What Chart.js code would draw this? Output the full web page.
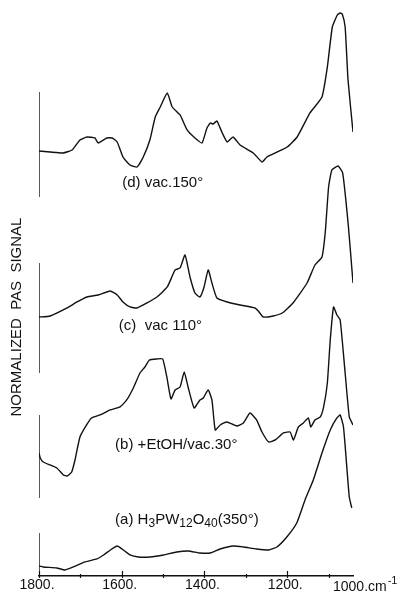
<!DOCTYPE html>
<html>
<head>
<meta charset="utf-8">
<title>PAS spectra</title>
<script src="https://cdn.jsdelivr.net/npm/chart.js@4.4.1/dist/chart.umd.min.js"></script>
<style>
    html, body { margin: 0; padding: 0; background: #fff; }
    #wrap { width: 407px; height: 594px; }
</style>
</head>
<body>
<div id="wrap"><canvas id="pas-chart" width="407" height="594"></canvas></div>
<script>
// wavenumbers (cm-1) and signal, arbitrary units
const dWavenumber = [1800, 1773, 1742, 1720, 1701, 1684, 1665, 1657, 1636, 1623, 1611, 1597, 1580, 1563, 1548, 1532, 1519, 1507, 1490, 1478, 1459, 1442, 1423, 1406, 1394, 1386, 1379, 1370, 1357, 1345, 1331, 1314, 1282, 1261, 1249, 1224, 1200, 1176, 1145, 1116, 1103, 1091, 1079, 1072, 1067, 1060, 1053, 1041];
const dSignal     = [425, 424, 423, 426, 436, 439, 438, 433, 438, 438, 434, 419, 411, 409, 419, 436, 459, 469, 483, 469, 461, 446, 438, 433, 448, 453, 452, 455, 443, 434, 439, 431, 423, 414, 419, 424, 429, 439, 463, 479, 509, 549, 561, 563, 562, 549, 496, 444];

const cWavenumber = [1800, 1773, 1732, 1708, 1684, 1657, 1628, 1611, 1597, 1580, 1563, 1539, 1515, 1490, 1471, 1459, 1447, 1435, 1423, 1411, 1401, 1391, 1382, 1370, 1345, 1314, 1278, 1270, 1258, 1234, 1212, 1186, 1152, 1133, 1116, 1108, 1100, 1092, 1077, 1066, 1052, 1041];
const cSignal     = [259, 260, 268, 274, 279, 281, 285, 281, 274, 269, 268, 273, 279, 289, 306, 308, 321, 299, 283, 279, 289, 306, 293, 278, 274, 271, 268, 265, 259, 260, 263, 273, 293, 311, 319, 344, 389, 406, 410, 403, 349, 293];

const bWavenumber = [1800, 1797, 1790, 1773, 1757, 1741, 1732, 1721, 1713, 1701, 1685, 1673, 1652, 1628, 1604, 1588, 1572, 1556, 1544, 1533, 1515, 1501, 1491, 1481, 1471, 1459, 1449, 1439, 1425, 1411, 1403, 1391, 1382, 1374, 1362, 1346, 1322, 1306, 1290, 1274, 1261, 1245, 1229, 1209, 1193, 1185, 1173, 1161, 1149, 1143, 1133, 1120, 1112, 1103, 1096, 1088, 1080, 1072, 1060, 1050, 1041];
const bSignal     = [123, 118, 114, 111, 108, 101, 100, 104, 116, 139, 151, 158, 161, 166, 169, 176, 188, 203, 209, 216, 217, 217, 199, 177, 186, 189, 204, 188, 168, 176, 178, 186, 176, 146, 151, 154, 150, 153, 163, 156, 144, 134, 136, 143, 144, 136, 149, 153, 158, 149, 156, 159, 169, 193, 236, 269, 261, 256, 203, 159, 151];

const aWavenumber = [1800, 1790, 1757, 1737, 1717, 1689, 1660, 1644, 1624, 1611, 1596, 1580, 1560, 1532, 1499, 1467, 1439, 1411, 1386, 1362, 1330, 1306, 1274, 1245, 1225, 1201, 1177, 1157, 1137, 1116, 1096, 1080, 1072, 1064, 1056, 1050, 1044];
const aSignal     = [10, 9, 8, 6, 9, 14, 17, 21, 27, 30, 26, 21, 19, 19, 21, 24, 25, 23, 23, 27, 30, 29, 27, 26, 29, 39, 53, 76, 96, 123, 146, 158, 161, 149, 109, 79, 68];

// vertical scale bars at 1800 cm-1 (low, high)
const dBar = [379, 484];
const cBar = [203, 313];
const bBar = [78, 161];
const aBar = [0, 43];

const majorTicks = [1800, 1600, 1400, 1200];
const minorTicks = [1700, 1500, 1300, 1100];

const traceLabels = [
    { parts: [['(d) vac.150°', 0]], wn: 1599, y: 393 },
    { parts: [['(c)  vac 110°', 0]], wn: 1607, y: 250 },
    { parts: [['(b) +EtOH/vac.30°', 0]], wn: 1616, y: 131 },
    { parts: [['(a) H', 0], ['3', 1], ['PW', 0], ['12', 1], ['O', 0], ['40', 1], ['(350°)', 0]], wn: 1616, y: 56 }
];

const FONT = '"Liberation Sans", Arial, sans-serif';
const INK = '#111';

function toPoints(xs, ys) {
    return xs.map((x, i) => ({ x: x, y: ys[i] }));
}

function trace(xs, ys) {
    return {
        data: toPoints(xs, ys),
        borderColor: INK,
        borderWidth: 1.4,
        pointRadius: 0,
        tension: 0.15,
        fill: false
    };
}

function bar(range) {
    return {
        data: [{ x: 1800, y: range[0] }, { x: 1800, y: range[1] }],
        borderColor: INK,
        borderWidth: 1.4,
        pointRadius: 0,
        fill: false
    };
}

// extra marks: crossing ticks, labels, axis title, units
const decorations = {
    id: 'decorations',
    afterDraw(chart) {
        const ctx = chart.ctx;
        const xs = chart.scales.x;
        const ys = chart.scales.y;
        const axisY = chart.chartArea.bottom;
        ctx.save();
        ctx.strokeStyle = INK;
        ctx.lineWidth = 1.2;
        majorTicks.forEach(v => {
            const px = Math.round(xs.getPixelForValue(v)) + 0.5;
            ctx.beginPath();
            ctx.moveTo(px, axisY - 5);
            ctx.lineTo(px, axisY + 2);
            ctx.stroke();
        });
        minorTicks.forEach(v => {
            const px = Math.round(xs.getPixelForValue(v)) + 0.5;
            ctx.beginPath();
            ctx.moveTo(px, axisY - 2);
            ctx.lineTo(px, axisY + 2);
            ctx.stroke();
        });

        ctx.fillStyle = INK;
        ctx.textBaseline = 'middle';
        ctx.textAlign = 'left';
        traceLabels.forEach(lbl => {
            let x = xs.getPixelForValue(lbl.wn);
            const y = ys.getPixelForValue(lbl.y);
            lbl.parts.forEach(([text, sub]) => {
                ctx.font = (sub ? '12px ' : '15px ') + FONT;
                ctx.fillText(text, x, sub ? y + 4 : y);
                x += ctx.measureText(text).width;
            });
        });

        // end of axis units
        ctx.font = '14px ' + FONT;
        ctx.fillText('1000.cm', 333, 587);
        const w = ctx.measureText('1000.cm').width;
        ctx.font = '11px ' + FONT;
        ctx.fillText('-1', 333 + w + 1, 581);

        // y axis title
        ctx.translate(17, 317);
        ctx.rotate(-Math.PI / 2);
        ctx.textAlign = 'center';
        ctx.font = '15px ' + FONT;
        ctx.fillText('NORMALIZED  PAS  SIGNAL', 0, 0);
        ctx.restore();
    }
};

new Chart(document.getElementById('pas-chart').getContext('2d'), {
    type: 'line',
    data: {
        datasets: [
            trace(dWavenumber, dSignal),
            trace(cWavenumber, cSignal),
            trace(bWavenumber, bSignal),
            trace(aWavenumber, aSignal),
            bar(dBar), bar(cBar), bar(bBar), bar(aBar)
        ]
    },
    options: {
        responsive: false,
        animation: false,
        layout: { padding: { left: 39, right: 54, top: 6, bottom: 0 } },
        plugins: { legend: { display: false }, tooltip: { enabled: false } },
        scales: {
            x: {
                type: 'linear',
                reverse: true,
                min: 1041,
                max: 1800,
                afterBuildTicks: scale => {
                    scale.ticks = majorTicks.concat(minorTicks).map(v => ({ value: v }));
                },
                grid: { display: false, drawTicks: false },
                border: { display: true, color: INK, width: 1.4 },
                ticks: {
                    color: INK,
                    padding: 3,
                    labelOffset: -2,
                    maxRotation: 0,
                    autoSkip: false,
                    font: { family: FONT, size: 14, lineHeight: 0.86 },
                    callback: v => (majorTicks.includes(v) ? v + '.' : '')
                }
            },
            y: {
                type: 'linear',
                display: false,
                min: 0,
                max: 570
            }
        }
    },
    plugins: [decorations]
});
</script>
</body>
</html>
